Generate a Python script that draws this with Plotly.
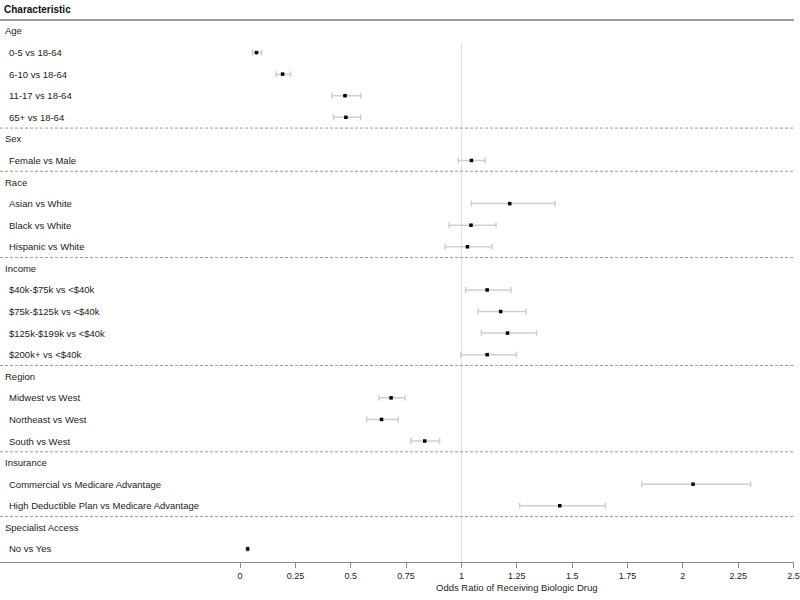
import plotly.graph_objects as go

groups = ["Age", "Sex", "Race", "Income", "Region", "Insurance", "Specialist Access"]
group_items = [
    ["0-5 vs 18-64", "6-10 vs 18-64", "11-17 vs 18-64", "65+ vs 18-64"],
    ["Female vs Male"],
    ["Asian vs White", "Black vs White", "Hispanic vs White"],
    ["$40k-$75k vs <$40k", "$75k-$125k vs <$40k", "$125k-$199k vs <$40k", "$200k+ vs <$40k"],
    ["Midwest vs West", "Northeast vs West", "South vs West"],
    ["Commercial vs Medicare Advantage", "High Deductible Plan vs Medicare Advantage"],
    ["No vs Yes"],
]
odds_ratio = [
    [0.074, 0.192, 0.474, 0.478],
    [1.045],
    [1.218, 1.043, 1.027],
    [1.116, 1.177, 1.208, 1.116],
    [0.682, 0.639, 0.834],
    [2.046, 1.444],
    [0.034],
]
ci_low = [
    [0.056, 0.163, 0.416, 0.422],
    [0.985],
    [1.045, 0.944, 0.926],
    [1.019, 1.075, 1.090, 0.997],
    [0.627, 0.572, 0.771],
    [1.814, 1.263],
    [0.031],
]
ci_high = [
    [0.097, 0.228, 0.545, 0.545],
    [1.107],
    [1.423, 1.156, 1.138],
    [1.224, 1.292, 1.339, 1.248],
    [0.745, 0.714, 0.901],
    [2.306, 1.650],
    [0.037],
]
x_ticks = [0, 0.25, 0.5, 0.75, 1, 1.25, 1.5, 1.75, 2, 2.25, 2.5]
x_tick_labels = ["0", "0.25", "0.5", "0.75", "1", "1.25", "1.5", "1.75", "2", "2.25", "2.5"]
x_title = "Odds Ratio of Receiving Biologic Drug"
header = "Characteristic"

FONT = "Liberation Sans, Arial, sans-serif"
TXT = "#222222"
PLOT_W = 794

xs, ys, lo, hi = [], [], [], []
annotations = []
shapes = []
row = 0
sep_rows = []
for gi, g in enumerate(groups):
    annotations.append(dict(x=3 / PLOT_W, xref="paper", y=row, yref="y", text=g,
                            showarrow=False, xanchor="left", yanchor="middle",
                            font=dict(family=FONT, size=9.5, color=TXT)))
    row += 1
    for ii, item in enumerate(group_items[gi]):
        annotations.append(dict(x=7 / PLOT_W, xref="paper", y=row, yref="y", text=item,
                                showarrow=False, xanchor="left", yanchor="middle",
                                font=dict(family=FONT, size=9.5, color=TXT)))
        xs.append(odds_ratio[gi][ii])
        ys.append(row)
        lo.append(odds_ratio[gi][ii] - ci_low[gi][ii])
        hi.append(ci_high[gi][ii] - odds_ratio[gi][ii])
        row += 1
    if gi < len(groups) - 1:
        sep_rows.append(row - 0.5)

row_px = 21.6
top_px = 31
plot_bottom_px = 562.5
y_top = -top_px / row_px
y_bottom = (plot_bottom_px - top_px) / row_px

annotations.append(dict(x=2 / PLOT_W, xref="paper", y=(10 - top_px) / row_px, yref="y",
                        text="<b>" + header + "</b>",
                        showarrow=False, xanchor="left", yanchor="middle",
                        font=dict(family=FONT, size=10, color="#111111")))
# axis title centred under the data range
annotations.append(dict(x=(x_ticks[0] + x_ticks[-1]) / 2, xref="x",
                        y=(plot_bottom_px - 588) / plot_bottom_px, yref="paper",
                        text=x_title, showarrow=False, xanchor="center", yanchor="middle",
                        font=dict(family=FONT, size=9.5, color=TXT)))
shapes.append(dict(type="line", xref="paper", yref="y", x0=0, x1=1,
                   y0=(20 - top_px) / row_px, y1=(20 - top_px) / row_px,
                   line=dict(color="#9a9a9a", width=2)))
for s in sep_rows:
    shapes.append(dict(type="line", xref="paper", yref="y", x0=0, x1=1, y0=s, y1=s,
                       line=dict(color="#9a9a9a", width=1, dash="3px,2px")))
shapes.append(dict(type="line", xref="x", yref="y", x0=1, x1=1, y0=0.5, y1=y_bottom,
                   line=dict(color="#e2e2e2", width=1), layer="below"))

fig = go.Figure()
fig.add_trace(go.Scatter(
    x=xs, y=ys, mode="markers",
    marker=dict(symbol="square", size=3.5, color="black"),
    error_x=dict(type="data", symmetric=False, array=hi, arrayminus=lo,
                 color="#cfcfcf", thickness=1.5, width=3),
    showlegend=False, hoverinfo="x+y",
))

fig.update_layout(
    width=800, height=600,
    margin=dict(l=0, r=800 - PLOT_W, t=0, b=600 - plot_bottom_px),
    paper_bgcolor="white", plot_bgcolor="white",
    font=dict(family=FONT, size=9.5, color=TXT),
    xaxis=dict(range=[-240.2 / 221.5, 2.502], tickvals=x_ticks, ticktext=x_tick_labels,
               showgrid=False, zeroline=False, showline=True, linecolor="#8a8a8a", linewidth=1,
               ticks="outside", ticklen=5, tickcolor="#8a8a8a", tickwidth=1,
               tickfont=dict(family=FONT, size=9, color=TXT)),
    yaxis=dict(range=[y_bottom, y_top], showgrid=False, zeroline=False, showticklabels=False,
               showline=False, ticks=""),
    annotations=annotations, shapes=shapes,
)
fig.write_html("out.html", config={"displayModeBar": False},
               post_script="document.body.style.margin='0px';")
